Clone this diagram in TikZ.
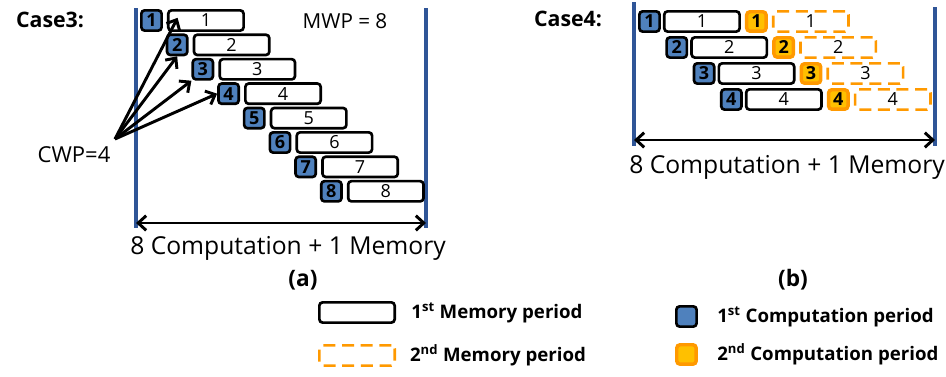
\documentclass[tikz,border=0pt]{standalone}
\usepackage{fontspec}
\setmainfont{Open Sans}
\usetikzlibrary{positioning,arrows.meta}
\definecolor{cblue}{HTML}{4F81BD}
\definecolor{wblue}{HTML}{2F5597}
\definecolor{cyel}{HTML}{FFC000}
\definecolor{corg}{HTML}{FF9900}

\begin{document}
\begin{tikzpicture}[x=0.75pt,y=-0.75pt,>={Straight Barb[length=6pt,width=11pt]},
  comp/.style={draw,fill=cblue,line width=2pt,rounded corners=2.5pt,minimum width=15.2pt,minimum height=15.2pt,inner sep=0pt,font=\bfseries\fontsize{13.5}{13.5}\selectfont},
  mem/.style={draw,fill=white,line width=2pt,rounded corners=2.5pt,minimum width=56.5pt,minimum height=15.2pt,inner sep=0pt,font=\fontsize{13.5}{13.5}\selectfont},
  comp2/.style={comp,draw=corg,fill=cyel,line width=2.6pt,minimum width=14.6pt,minimum height=14.6pt},
  mem2/.style={mem,draw=corg,fill=none,dash pattern=on 9pt off 5pt},
  wall/.style={wblue,line width=2.6pt},
  spanarrow/.style={<->,line width=2.2pt},
  legend/.style={font=\bfseries\fontsize{14}{14}\selectfont}]
  \useasboundingbox (0,0) rectangle (946,376);

  % (a) case 3
  \node[font=\bfseries\fontsize{16}{16}\selectfont] (case3) at (50,20) {Case3:};
  \node[font=\fontsize{15.5}{15.5}\selectfont] (mwp) at (345,21) {MWP = 8};
  \draw[wall] (136,8) -- (136,228);
  \draw[wall] (426,8) -- (426,228);
  \foreach \i in {1,...,8}{
    \node[comp,anchor=north west] (a\i) at ({140+25.7*(\i-1)},{9+24.4*(\i-1)}) {\i};
    \node[mem,right=3pt of a\i] (am\i) {\i};
  }
  \node[font=\fontsize{16.5}{16.5}\selectfont] (cwp) at (74,155) {CWP=4};
  \coordinate (fan) at (115,139);
  \draw[->,line width=2.2pt] (fan) -- ([xshift=8pt,yshift=2pt]am1.west);
  \draw[->,line width=2.2pt] (fan) -- (a2.south);
  \draw[->,line width=2.2pt] (fan) -- (a3.south west);
  \draw[->,line width=2.2pt] (fan) -- (a4.west);
  \coordinate (aL) at (136,223);
  \coordinate (aR) at (426,223);
  \draw[spanarrow] (aL) -- (aR);
  \node[font=\fontsize{18.5}{18.5}\selectfont] (atime) at (288,248) {8 Computation + 1 Memory};
  \node[font=\bfseries\fontsize{17}{17}\selectfont] (capa) at (303,280) {(a)};

  % (b) case 4
  \node[font=\bfseries\fontsize{16}{16}\selectfont] (case4) at (568,19) {Case4:};
  \draw[wall] (634,2) -- (634,146);
  \draw[wall] (935,7) -- (935,146);
  \foreach \i in {1,...,4}{
    \node[comp,anchor=north west] (c\i) at ({638+27.3*(\i-1)},{10+26*(\i-1)}) {\i};
    \node[mem,right=1.5pt of c\i] (cm\i) {\i};
    \node[comp2,right=3pt of cm\i] (d\i) {\i};
    \node[mem2,right=3pt of d\i] (dm\i) {\i};
  }
  \coordinate (bL) at (634,140);
  \coordinate (bR) at (935,140);
  \draw[spanarrow] (bL) -- (bR);
  \node[font=\fontsize{18.5}{18.5}\selectfont] (btime) at (787,167) {8 Computation + 1 Memory};
  \node[font=\bfseries\fontsize{17}{17}\selectfont] (capb) at (793,280) {(b)};

  % legend
  \node[mem,anchor=north west] (lm1) at (318,301) {};
  \node[legend,right=8pt of lm1] (t1mem) {1\textsuperscript{st} Memory period};
  \node[mem2,anchor=north west] (lm2) at (318,344) {};
  \node[legend,right=7pt of lm2] (t2mem) {2\textsuperscript{nd} Memory period};
  \node[comp,anchor=north west] (lc1) at (675,305) {};
  \node[legend,right=11pt of lc1] (t1comp) {1\textsuperscript{st} Computation period};
  \node[comp2,anchor=north west] (lc2) at (675,343) {};
  \node[legend,right=11pt of lc2] (t2comp) {2\textsuperscript{nd} Computation period};
\end{tikzpicture}
\end{document}
